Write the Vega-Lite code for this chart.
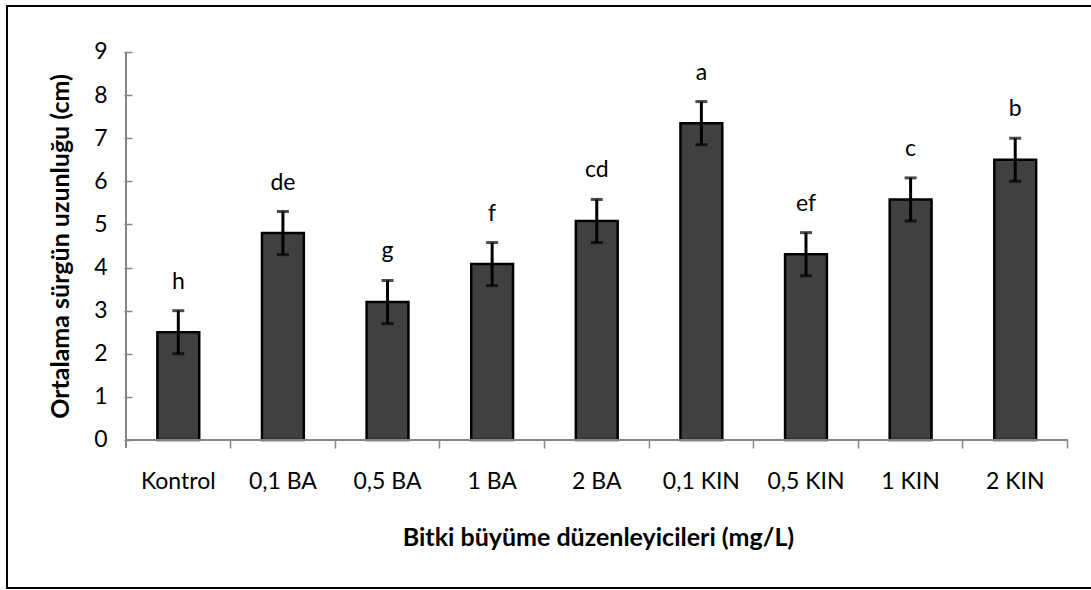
{
  "$schema": "https://vega.github.io/schema/vega-lite/v6.json",
  "autosize": {"type": "none"},
  "width": 1088,
  "height": 582,
  "padding": {"left": 7, "top": 6, "right": -4, "bottom": 2},
  "background": "white",
  "config": {
    "view": {"stroke": "black", "strokeWidth": 2},
    "font": "Lato",
    "axis": {"labelFont": "Lato", "titleFont": "Lato"}
  },
  "data": {
    "values": [
      {"cat": "Kontrol", "mean": 2.5, "lo": 2.0, "hi": 3.0, "letter": "h"},
      {"cat": "0,1 BA", "mean": 4.8, "lo": 4.3, "hi": 5.3, "letter": "de"},
      {"cat": "0,5 BA", "mean": 3.2, "lo": 2.7, "hi": 3.7, "letter": "g"},
      {"cat": "1 BA", "mean": 4.08, "lo": 3.58, "hi": 4.58, "letter": "f"},
      {"cat": "2 BA", "mean": 5.08, "lo": 4.58, "hi": 5.58, "letter": "cd"},
      {"cat": "0,1 KIN", "mean": 7.35, "lo": 6.85, "hi": 7.85, "letter": "a"},
      {"cat": "0,5 KIN", "mean": 4.31, "lo": 3.81, "hi": 4.81, "letter": "ef"},
      {"cat": "1 KIN", "mean": 5.58, "lo": 5.08, "hi": 6.08, "letter": "c"},
      {"cat": "2 KIN", "mean": 6.5, "lo": 6.0, "hi": 7.0, "letter": "b"}
    ]
  },
  "encoding": {
    "x": {
      "field": "cat",
      "type": "nominal",
      "sort": null,
      "scale": {"paddingInner": 0.6, "paddingOuter": 1.0476, "align": 0.7187},
      "axis": {
        "offset": -148,
        "domain": false,
        "bandPosition": 1.75,
        "tickExtra": false,
        "tickSize": 8,
        "tickColor": "#868686",
        "tickWidth": 1.5,
        "labelAngle": 0,
        "labelFontSize": 23,
        "labelColor": "black",
        "labelPadding": 22,
        "title": "Bitki büyüme düzenleyicileri (mg/L)",
        "titleFontSize": 25,
        "titleFontWeight": "bold",
        "titleColor": "black",
        "titleX": 591,
        "titleY": 97,
        "titleBaseline": "middle",
        "titleAnchor": "middle",
        "titleAlign": "center"
      }
    }
  },
  "layer": [
    {
      "mark": {"type": "bar", "fill": "#404040", "stroke": "black", "strokeWidth": 2.5},
      "encoding": {
        "y": {
          "field": "mean",
          "type": "quantitative",
          "scale": {"domain": [-3.433, 10.067], "nice": false, "zero": false},
          "axis": {
            "offset": -125,
            "domain": false,
            "values": [0, 1, 2, 3, 4, 5, 6, 7, 8, 9],
            "grid": false,
            "tickSize": 8,
            "tickColor": "#868686",
            "tickWidth": 1.5,
            "labelFontSize": 23,
            "labelColor": "black",
            "labelPadding": 17,
            "title": "Ortalama sürgün uzunluğu (cm)",
            "titleFontSize": 25,
            "titleFontWeight": "bold",
            "titleColor": "black",
            "titleX": -72,
            "titleY": 240,
            "titleAngle": -90,
            "titleBaseline": "middle",
            "titleAlign": "center"
          }
        },
        "y2": {"datum": 0}
      }
    },
    {
      "mark": {"type": "rule", "color": "black", "strokeWidth": 3},
      "encoding": {
        "y": {"field": "lo", "type": "quantitative"},
        "y2": {"field": "hi"}
      }
    },
    {
      "mark": {"type": "tick", "orient": "horizontal", "color": "black", "size": 12, "thickness": 3},
      "encoding": {"y": {"field": "lo", "type": "quantitative"}}
    },
    {
      "mark": {"type": "tick", "orient": "horizontal", "color": "black", "size": 12, "thickness": 3},
      "encoding": {"y": {"field": "hi", "type": "quantitative"}}
    },
    {
      "mark": {"type": "text", "fontSize": 23, "color": "black", "baseline": "alphabetic", "dy": -22},
      "encoding": {
        "y": {"field": "hi", "type": "quantitative"},
        "text": {"field": "letter"}
      }
    },
    {
      "mark": {"type": "rule", "color": "#868686", "strokeWidth": 1.5},
      "encoding": {
        "x": {"datum": "Kontrol", "bandPosition": -0.75},
        "y": {"datum": -0.1856},
        "y2": {"datum": 9}
      }
    },
    {
      "mark": {"type": "rule", "color": "#868686", "strokeWidth": 1.5},
      "encoding": {
        "x": {"datum": "Kontrol", "bandPosition": -0.75},
        "x2": {"datum": "2 KIN", "bandPosition": 1.75},
        "y": {"datum": 0}
      }
    }
  ]
}
